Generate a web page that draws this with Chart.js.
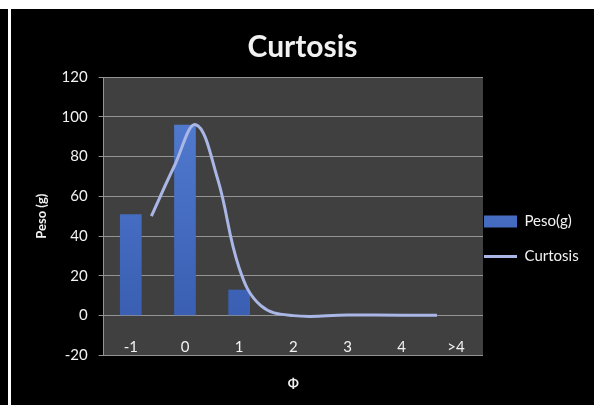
<!DOCTYPE html>
<html>
<head>
<meta charset="utf-8">
<script src="https://cdn.jsdelivr.net/npm/chart.js@4/dist/chart.umd.min.js"></script>
<style>
    html, body { margin: 0; padding: 0; background: #000; }
    body { width: 594px; height: 405px; position: relative; overflow: hidden; }
    .top-strip { position: absolute; left: 0; top: 0; width: 594px; height: 9px; background: #fff; }
    .left-strip { position: absolute; left: 8px; top: 0; width: 3px; height: 405px; background: #fff; }
    #chartWrap { position: absolute; left: 11px; top: 9px; width: 583px; height: 396px; background: #000; }
</style>
</head>
<body>
<div class="top-strip"></div>
<div class="left-strip"></div>
<div id="chartWrap"><canvas id="curtosisChart" width="583" height="396"></canvas></div>

<script>
// Categories (phi classes) and bar values
const categories = ["-1", "0", "1", "2", "3", "4", ">4"];
const pesoValues = [51, 96, 13, 0, 0, 0, 0];

// Smoothed curtosis curve (x in phi units)
const curtosisX = [-0.62, -0.2, 0.2, 0.6, 1.0, 1.4, 2.0, 3.0, 4.0, 4.65];
const curtosisY = [50, 75, 96, 69, 24, 5, 0, 0.3, 0.2, 0.2];

// Y axis ticks
const yTicks = [-20, 0, 20, 40, 60, 80, 100, 120];

document.addEventListener("DOMContentLoaded", function () {

    const ctx = document.getElementById("curtosisChart").getContext("2d");
    const textColor = "#f2f2f2";
    const gridColor = "#949494";
    const fontFamily = "Lato, 'Liberation Sans', sans-serif";

    // dark plot-area background
    const plotBackground = {
        id: "plotBackground",
        beforeDraw(chart) {
            const a = chart.chartArea;
            chart.ctx.save();
            chart.ctx.fillStyle = "#404040";
            chart.ctx.fillRect(a.left, a.top, a.right - a.left, a.bottom - a.top);
            chart.ctx.restore();
        }
    };

    // pull the legend in next to the plot, Excel style
    const legendNudge = {
        id: "legendNudge",
        afterLayout(chart) {
            const lg = chart.legend;
            if (!lg) return;
            lg.left -= 19;
            lg.top += 32;
            lg.bottom += 32;
        }
    };

    const curvePoints = curtosisX.map((x, i) => ({ x: x, y: curtosisY[i] }));

    new Chart(ctx, {
        data: {
            labels: categories,
            datasets: [{
                type: "bar",
                label: "Peso(g)",
                data: pesoValues,
                backgroundColor: function (c) {
                    const area = c.chart.chartArea;
                    if (!area) return "#4470c4";
                    const g = c.chart.ctx.createLinearGradient(0, area.top, 0, area.bottom);
                    g.addColorStop(0, "#5580d4");
                    g.addColorStop(1, "#3559ad");
                    return g;
                },
                grouped: false,
                categoryPercentage: 1,
                barPercentage: 0.4,
                pointStyle: "rect",
                order: 2
            }, {
                type: "line",
                label: "Curtosis",
                data: curvePoints,
                xAxisID: "x2",
                borderColor: "#a9b6e6",
                backgroundColor: "#a9b6e6",
                borderWidth: 3,
                tension: 0.4,
                pointRadius: 0,
                pointStyle: "line",
                order: 1
            }]
        },
        options: {
            responsive: false,
            animation: false,
            layout: { padding: 0 },
            plugins: {
                title: {
                    display: true,
                    text: "Curtosis",
                    color: textColor,
                    font: { family: fontFamily, size: 30, weight: "bold" },
                    padding: { top: 20, bottom: 12 }
                },
                legend: {
                    position: "right",
                    maxWidth: 111,
                    labels: {
                        color: textColor,
                        font: { family: fontFamily, size: 15 },
                        usePointStyle: true,
                        pointStyleWidth: 33,
                        boxHeight: 12,
                        padding: 20,
                        sort: (a, b) => a.datasetIndex - b.datasetIndex
                    }
                },
                tooltip: { enabled: false }
            },
            scales: {
                x: {
                    type: "category",
                    offset: true,
                    grid: { display: false, drawTicks: false },
                    border: { display: false },
                    ticks: {
                        color: textColor,
                        font: { family: fontFamily, size: 15 },
                        mirror: true,
                        padding: -1
                    },
                    title: {
                        display: true,
                        text: "Φ",
                        color: textColor,
                        font: { family: fontFamily, size: 13, weight: "bold" },
                        padding: { top: 23, bottom: 13 }
                    }
                },
                x2: {
                    type: "linear",
                    display: false,
                    min: -1.5,
                    max: 5.5
                },
                y: {
                    min: yTicks[0],
                    max: yTicks[yTicks.length - 1],
                    afterBuildTicks: function (axis) {
                        axis.ticks = yTicks.map(v => ({ value: v }));
                    },
                    grid: { color: gridColor, tickLength: 5 },
                    border: { display: true, color: gridColor },
                    ticks: {
                        color: textColor,
                        font: { family: fontFamily, size: 15 },
                        padding: 11
                    },
                    title: {
                        display: true,
                        text: "Peso (g)",
                        color: textColor,
                        font: { family: fontFamily, size: 13, weight: "bold" },
                        padding: { top: 23, bottom: 1 }
                    }
                }
            }
        },
        plugins: [plotBackground, legendNudge]
    });
});
</script>
</body>
</html>
